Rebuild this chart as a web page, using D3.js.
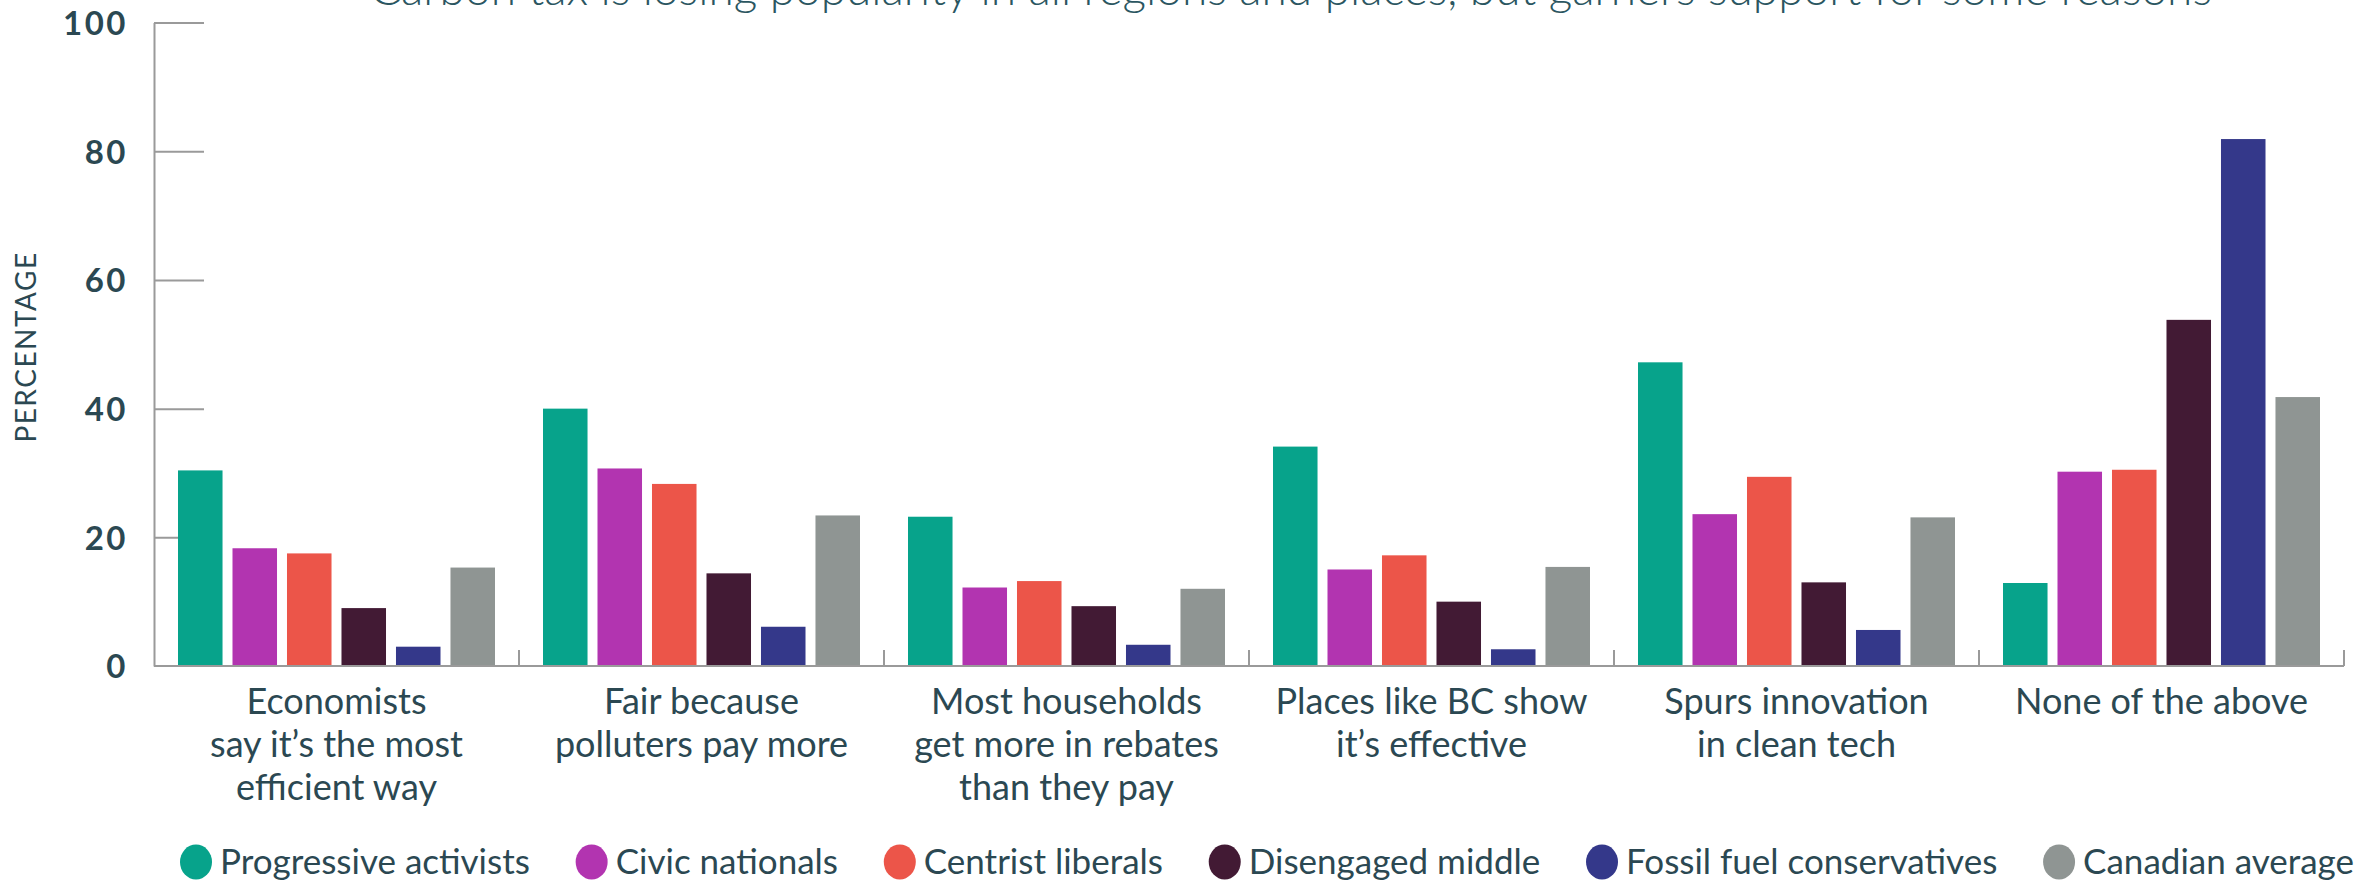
<!DOCTYPE html>
<html>
<head>
<meta charset="utf-8">
<script src="https://cdn.jsdelivr.net/npm/d3@7"></script>
<style>
  html, body { margin: 0; padding: 0; background: #ffffff; }
  svg { display: block; }
  text { font-family: Lato, "Open Sans", sans-serif; fill: #2b4852; }
</style>
</head>
<body>
<svg id="chart" width="2366" height="880"></svg>
<script>
// ---------- data ----------
const titleText = "Carbon tax is losing popularity in all regions and places, but garners support for some reasons";
const categories = [
  ["Economists", "say it\u2019s the most", "efficient way"],
  ["Fair because", "polluters pay more"],
  ["Most households", "get more in rebates", "than they pay"],
  ["Places like BC show", "it\u2019s effective"],
  ["Spurs innovation", "in clean tech"],
  ["None of the above"]
];
const seriesNames = ["Progressive activists", "Civic nationals", "Centrist liberals",
                     "Disengaged middle", "Fossil fuel conservatives", "Canadian average"];
const progressiveActivists   = [30.4, 40.0, 23.2, 34.1, 47.2, 12.9];
const civicNationals         = [18.3, 30.7, 12.2, 15.0, 23.6, 30.2];
const centristLiberals       = [17.5, 28.3, 13.2, 17.2, 29.4, 30.5];
const disengagedMiddle       = [9.0, 14.4, 9.3, 10.0, 13.0, 53.8];
const fossilFuelConservatives= [3.0, 6.1, 3.3, 2.6, 5.6, 81.9];
const canadianAverage        = [15.3, 23.4, 12.0, 15.4, 23.1, 41.8];
const seriesColors = ["#07a38b", "#b234b0", "#ec5549", "#421a34", "#34388a", "#8f9593"];
const yTicks = [0, 20, 40, 60, 80, 100];
const yLabel = "PERCENTAGE";

const seriesValues = [progressiveActivists, civicNationals, centristLiberals,
                      disengagedMiddle, fossilFuelConservatives, canadianAverage];

// ---------- layout ----------
const svg = d3.select("#chart");
const plotLeft = 154, plotRight = 2344, plotTop = 22.6, plotBottom = 666;
const axisColor = "#9a9a9a";

const catIdx = d3.range(categories.length);
const x0 = d3.scaleBand().domain(catIdx).range([plotLeft, plotRight]).padding(0);
const inner = 24;
const x1 = d3.scaleBand().domain(d3.range(seriesNames.length))
  .range([inner, x0.bandwidth() - inner]).paddingInner(0.183).paddingOuter(0);
const y = d3.scaleLinear().domain([0, 100]).range([plotBottom, plotTop]);

// title (clipped at top, as in the reference)
svg.append("text")
  .attr("x", 370).attr("y", 5)
  .attr("font-size", 46)
  .attr("font-weight", 300)
  .style("fill", "#2b5661")
  .text(titleText);

// y axis
const yAxis = d3.axisLeft(y).tickValues(yTicks).tickSizeInner(-50).tickSizeOuter(0).tickPadding(26)
  .tickFormat(d3.format("d"));
const yg = svg.append("g").attr("transform", `translate(${plotLeft},0)`).call(yAxis);
yg.select(".domain").attr("stroke", axisColor).attr("stroke-width", 2);
yg.selectAll(".tick line").attr("stroke", axisColor).attr("stroke-width", 2)
  .filter(d => d === 0).remove();
yg.selectAll(".tick text")
  .attr("font-size", 33).attr("font-weight", 700)
  .attr("letter-spacing", 2.5)
  .attr("dy", "0.36em")
  .style("font-family", "Lato, sans-serif")
  .style("fill", "#2b4852");

// y label
svg.append("text")
  .attr("transform", `translate(36,347) rotate(-90)`)
  .attr("text-anchor", "middle")
  .attr("font-size", 28)
  .attr("letter-spacing", 1.5)
  .text(yLabel);

// bars
const groups = svg.append("g").selectAll("g").data(catIdx).join("g")
  .attr("transform", d => `translate(${x0(d)},0)`);
groups.selectAll("rect")
  .data(ci => seriesValues.map((vals, si) => ({si, v: vals[ci]})))
  .join("rect")
  .attr("x", d => x1(d.si))
  .attr("width", x1.bandwidth())
  .attr("y", d => y(d.v))
  .attr("height", d => y(0) - y(d.v))
  .attr("fill", d => seriesColors[d.si]);

// x axis baseline + separators
svg.append("line")
  .attr("x1", plotLeft).attr("x2", plotRight)
  .attr("y1", y(0)).attr("y2", y(0))
  .attr("stroke", axisColor).attr("stroke-width", 2);
svg.append("g").selectAll("line").data(catIdx).join("line")
  .attr("x1", d => x0(d) + x0.bandwidth()).attr("x2", d => x0(d) + x0.bandwidth())
  .attr("y1", y(0)).attr("y2", y(0) - 16)
  .attr("stroke", axisColor).attr("stroke-width", 2);

// category labels
const labG = svg.append("g").selectAll("text").data(catIdx).join("text")
  .attr("text-anchor", "middle")
  .attr("font-size", 36)
  .attr("x", d => x0(d) + x0.bandwidth() / 2);
labG.selectAll("tspan").data(d => categories[d]).join("tspan")
  .attr("x", function() { return this.parentNode.getAttribute("x"); })
  .attr("y", (d, i) => 714 + i * 43)
  .text(d => d);

// legend
const legY = 862;
const leg = svg.append("g");
const items = leg.selectAll("g").data(seriesNames).join("g");
items.append("ellipse").attr("rx", 16).attr("ry", 17.5).attr("cx", 0).attr("cy", legY)
  .attr("fill", (d, i) => seriesColors[i]);
items.append("text").attr("x", 24).attr("y", legY + 12).attr("font-size", 35).text(d => d);
const widths = items.nodes().map(n => d3.select(n).select("text").node().getComputedTextLength());
const legStart = 196, legEnd = 2354;
const gap = (legEnd - legStart - d3.sum(widths.map(w => 24 + w))) / (widths.length - 1);
let cursor = legStart;
items.attr("transform", (d, i) => {
  const t = `translate(${cursor},0)`;
  cursor += 24 + widths[i] + gap;
  return t;
});
</script>
</body>
</html>
